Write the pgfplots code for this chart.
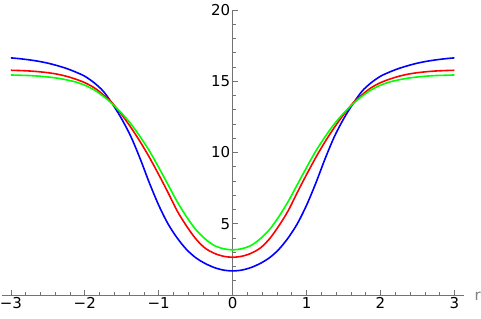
\documentclass[border=0pt]{standalone}
\usepackage{fontspec}
\setmainfont{DejaVu Sans}
\usepackage{pgfplots}
\pgfplotsset{compat=1.18}
\pgfplotstableread{
r blue red green
-3 16.64 15.77 15.44
-2.875 16.58 15.75 15.42
-2.75 16.5 15.72 15.4
-2.625 16.4 15.67 15.36
-2.5 16.27 15.6 15.3
-2.375 16.1 15.5 15.22
-2.25 15.9 15.35 15.1
-2.125 15.65 15.15 14.95
-2 15.35 14.9 14.72
-1.875 14.9 14.55 14.4
-1.75 14.3 14.05 13.95
-1.625 13.4 13.45 13.4
-1.5 12.35 12.65 12.75
-1.375 11.1 11.75 12.0
-1.25 9.55 10.75 11.1
-1.125 7.85 9.65 10.1
-1 6.3 8.45 8.95
-0.875 5.0 7.2 7.75
-0.75 4.0 5.9 6.55
-0.625 3.2 4.85 5.5
-0.5 2.62 3.95 4.6
-0.375 2.22 3.3 3.95
-0.25 1.93 2.93 3.48
-0.125 1.75 2.72 3.25
0 1.69 2.65 3.17
0.125 1.75 2.72 3.25
0.25 1.93 2.93 3.48
0.375 2.22 3.3 3.95
0.5 2.62 3.95 4.6
0.625 3.2 4.85 5.5
0.75 4.0 5.9 6.55
0.875 5.0 7.2 7.75
1 6.3 8.45 8.95
1.125 7.85 9.65 10.1
1.25 9.55 10.75 11.1
1.375 11.1 11.75 12.0
1.5 12.35 12.65 12.75
1.625 13.4 13.45 13.4
1.75 14.3 14.05 13.95
1.875 14.9 14.55 14.4
2 15.35 14.9 14.72
2.125 15.65 15.15 14.95
2.25 15.9 15.35 15.1
2.375 16.1 15.5 15.22
2.5 16.27 15.6 15.3
2.625 16.4 15.67 15.36
2.75 16.5 15.72 15.4
2.875 16.58 15.75 15.42
3 16.64 15.77 15.44
}\curves
\begin{document}
\begin{tikzpicture}[font=\fontsize{15}{17}\selectfont]
\begin{axis}[
  scale only axis, width=462pt, height=285pt,
  xmin=-3.12, xmax=3.13, ymin=0, ymax=20,
  axis x line=bottom, axis y line=middle,
  axis line style={-, draw=gray!90!black, line width=0.6pt},
  xtick={-3,-2,-1,0,1,2,3},
  xticklabels={−3,−2,−1,0,1,2,3},
  ytick={5,10,15,20},
  yticklabels={5,10,15,20},
  minor x tick num=4,
  minor ytick={1,2,3,4,6,7,8,9,11,12,13,14,16,17,18,19},
  hide obscured x ticks=false,
  tick align=inside,
  major tick length=5pt, minor tick length=3pt,
  tick style={draw=gray!90!black, line width=0.6pt},
  /pgf/number format/assume math mode=true,
  tick label style={font=\fontsize{15}{17}\selectfont, text=black},
  xticklabel style={yshift=1pt},
  yticklabel style={xshift=1pt},
  xlabel={r},
  x label style={at={(axis description cs:1,0)}, anchor=west, xshift=7pt, yshift=-1.5pt, text=gray, font=\fontsize{15}{17}\selectfont},
  clip=false,
]
\addplot[blue, line width=1.6pt, smooth] table[x=r, y=blue] {\curves};
\addplot[red, line width=1.6pt, smooth] table[x=r, y=red] {\curves};
\addplot[green, line width=1.6pt, smooth] table[x=r, y=green] {\curves};
\coordinate (bl) at (rel axis cs:0,0);
\end{axis}
\pgfresetboundingbox
\path[use as bounding box] (bl) ++(-2pt,-23pt) rectangle ++(481pt,318pt);
\end{tikzpicture}
\end{document}
